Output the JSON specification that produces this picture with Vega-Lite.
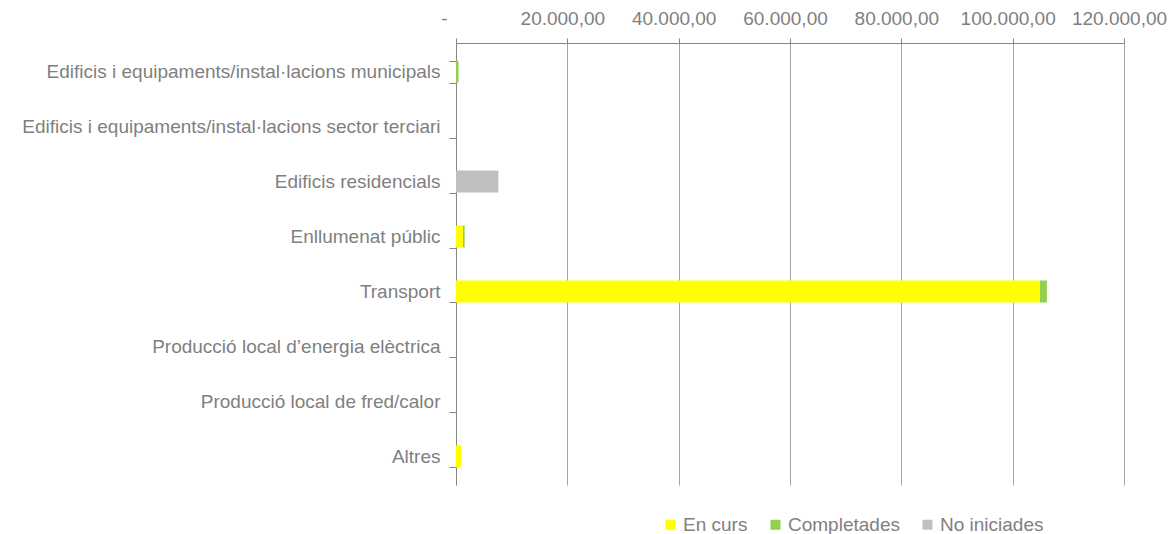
{
  "$schema": "https://vega.github.io/schema/vega-lite/v6.json",
  "width": 668,
  "height": 442,
  "autosize": "none",
  "padding": {"left": 456, "top": 43, "right": 47, "bottom": 49},
  "background": "white",
  "config": {
    "font": "Liberation Sans",
    "view": {"stroke": null}
  },
  "data": {
    "values": [
      {"categoria": "Edificis i equipaments/instal·lacions municipals", "estat": "Completades", "ordre": 2, "valor": 450},
      {"categoria": "Edificis residencials", "estat": "No iniciades", "ordre": 3, "valor": 7600},
      {"categoria": "Enllumenat públic", "estat": "En curs", "ordre": 1, "valor": 1250},
      {"categoria": "Enllumenat públic", "estat": "Completades", "ordre": 2, "valor": 300},
      {"categoria": "Transport", "estat": "En curs", "ordre": 1, "valor": 104900},
      {"categoria": "Transport", "estat": "Completades", "ordre": 2, "valor": 1250},
      {"categoria": "Altres", "estat": "En curs", "ordre": 1, "valor": 900}
    ]
  },
  "mark": {"type": "bar"},
  "encoding": {
    "y": {
      "field": "categoria",
      "type": "nominal",
      "sort": [
        "Edificis i equipaments/instal·lacions municipals",
        "Edificis i equipaments/instal·lacions sector terciari",
        "Edificis residencials",
        "Enllumenat públic",
        "Transport",
        "Producció local d’energia elèctrica",
        "Producció local de fred/calor",
        "Altres"
      ],
      "scale": {
        "domain": [
          "Edificis i equipaments/instal·lacions municipals",
          "Edificis i equipaments/instal·lacions sector terciari",
          "Edificis residencials",
          "Enllumenat públic",
          "Transport",
          "Producció local d’energia elèctrica",
          "Producció local de fred/calor",
          "Altres"
        ],
        "paddingInner": 0.6,
        "paddingOuter": 0.32
      },
      "axis": {
        "title": null,
        "labelFontSize": 19,
        "labelColor": "#7f7f7f",
        "labelPadding": 9,
        "labelLimit": 600,
        "labelOverlap": false,
        "domainColor": "#868686",
        "tickColor": "#868686",
        "tickBand": "extent",
        "tickSize": 7,
        "grid": false
      }
    },
    "x": {
      "field": "valor",
      "type": "quantitative",
      "stack": "zero",
      "scale": {"domain": [0, 120000], "nice": false},
      "axis": {
        "orient": "top",
        "title": null,
        "values": [0, 20000, 40000, 60000, 80000, 100000, 120000],
        "labelExpr": "datum.value == 0 ? '-' : format(datum.value / 1000, 'd') + '.000,00'",
        "labelOverlap": false,
        "labelFlush": false,
        "labelBound": false,
        "labelFontSize": 19,
        "labelColor": "#7f7f7f",
        "labelPadding": 10,
        "labelOffset": {"condition": {"test": "datum.value == 0", "value": -12}, "value": -5},
        "domainColor": "#868686",
        "tickColor": "#868686",
        "tickSize": 5,
        "grid": true,
        "gridColor": "#a6a6a6",
        "gridWidth": 1
      }
    },
    "color": {
      "field": "estat",
      "type": "nominal",
      "scale": {
        "domain": ["En curs", "Completades", "No iniciades"],
        "range": ["#ffff00", "#92d050", "#bfbfbf"]
      },
      "legend": {
        "title": null,
        "orient": "none",
        "legendX": 205,
        "legendY": 472,
        "direction": "horizontal",
        "symbolType": "square",
        "symbolSize": 100,
        "symbolStrokeWidth": 0,
        "labelFontSize": 19,
        "labelColor": "#7f7f7f",
        "labelOffset": 3,
        "columnPadding": 18
      }
    },
    "order": {"field": "ordre", "type": "quantitative"}
  }
}
